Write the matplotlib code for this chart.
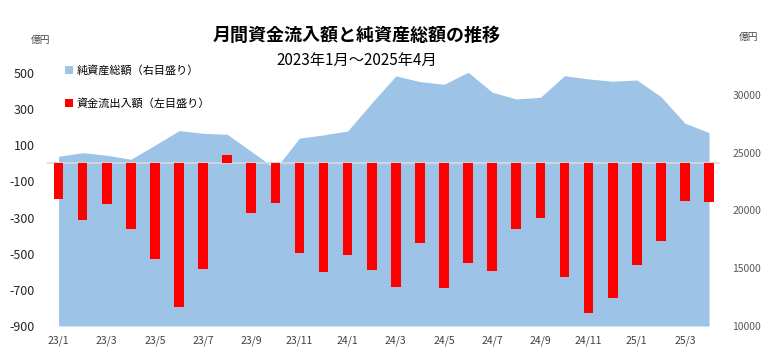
import matplotlib.pyplot as plt
import numpy as np

plt.rcParams['font.family'] = ['Noto Sans CJK JP', 'DejaVu Sans']
plt.rcParams['axes.unicode_minus'] = False

# 月次データ（2023/1～2025/4）
months = ['23/1', '23/2', '23/3', '23/4', '23/5', '23/6', '23/7', '23/8', '23/9', '23/10',
          '23/11', '23/12', '24/1', '24/2', '24/3', '24/4', '24/5', '24/6', '24/7', '24/8',
          '24/9', '24/10', '24/11', '24/12', '25/1', '25/2', '25/3', '25/4']
flows = [-195, -313, -223, -365, -529, -795, -583, 45, -274, -217,
         -498, -603, -505, -590, -684, -440, -688, -549, -596, -365,
         -302, -627, -830, -745, -564, -429, -209, -213]
assets = [24680, 24990, 24770, 24420, 25640, 26900, 26670, 26580, 25100, 23600,
          26250, 26530, 26870, 29300, 31630, 31140, 30910, 31950, 30220, 29640,
          29780, 31650, 31370, 31170, 31280, 29840, 27540, 26720]
left_ticks = [-900, -700, -500, -300, -100, 100, 300, 500]
right_ticks = [10000, 15000, 20000, 25000, 30000]

x = np.arange(len(months))

fig = plt.figure(figsize=(7.77, 3.59), dpi=100)
ax = fig.add_axes([0.0605, 0.092, 0.866, 0.805])
ax2 = ax.twinx()

# 純資産総額（右目盛り）
area = ax2.fill_between(x, 10000, assets, color='#9dc3e6', linewidth=0,
                        label='純資産総額（右目盛り）')
ax2.set_ylim(10000, 35000)
ax2.set_yticks(right_ticks)
ax2.tick_params(axis='y', length=0, pad=9, labelsize=7.5, labelcolor='#595959')

# 資金流出入額（左目盛り）
ax.set_zorder(ax2.get_zorder() + 1)
ax.patch.set_visible(False)
ax.axhline(0, color='#d9d9d9', linewidth=1.2, zorder=1)
bars = ax.bar(x, flows, width=0.4, color='#ff0000', zorder=2,
              label='資金流出入額（左目盛り）')
ax.set_ylim(-900, 700)
ax.set_yticks(left_ticks)
ax.set_xlim(-0.48, 27.45)
ax.set_xticks(x[::2])
ax.set_xticklabels(months[::2])
ax.tick_params(axis='y', length=0, pad=9, labelsize=9, labelcolor='#262626')
ax.tick_params(axis='x', length=0, pad=7, labelsize=7.5, labelcolor='#404040')

for a in (ax, ax2):
    for s in a.spines.values():
        s.set_visible(False)

fig.text(0.052, 0.888, '億円', fontsize=7, color='#404040', ha='center', va='center')
fig.text(0.963, 0.898, '億円', fontsize=7, color='#404040', ha='center', va='center')

fig.text(0.459, 0.9, '月間資金流入額と純資産総額の推移', fontsize=13,
         fontweight='bold', ha='center', va='center')
fig.text(0.459, 0.833, '2023年1月～2025年4月', fontsize=11, ha='center', va='center')

ax.legend(handles=[area, bars], loc='upper left', bbox_to_anchor=(0.077, 0.835),
          bbox_transform=fig.transFigure, frameon=False, fontsize=8,
          handlelength=0.7, handleheight=0.7, handletextpad=0.3,
          labelspacing=2.0, borderpad=0)

fig.savefig('out.png', dpi=100)
